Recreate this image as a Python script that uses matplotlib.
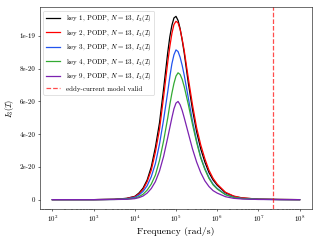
import matplotlib
matplotlib.use("Agg")
import matplotlib.pyplot as plt
from matplotlib.ticker import FuncFormatter
import numpy as np

plt.rcParams["font.family"] = "serif"
plt.rcParams["font.serif"] = ["cmr10", "DejaVu Serif"]
plt.rcParams["mathtext.fontset"] = "cm"
plt.rcParams["axes.formatter.use_mathtext"] = True

# log10 of frequency (rad/s) where values were read
log_freq = [2.0, 3.0, 3.5, 3.8, 4.0, 4.1, 4.2, 4.3, 4.4, 4.5, 4.6, 4.7, 4.8,
            4.85, 4.9, 4.95, 5.0, 5.05, 5.1, 5.15, 5.2, 5.3, 5.4, 5.5, 5.6,
            5.7, 5.8, 5.9, 6.0, 6.2, 6.4, 6.6, 7.0, 7.5, 8.0]

# values in units of 1e-20
key1 = [0, 0, 0.02, 0.08, 0.2, 0.4, 0.7, 1.2, 2.0, 3.2, 4.7, 6.8, 9.0,
        9.95, 10.65, 11.1, 11.2, 10.95, 10.45, 9.75, 8.95, 7.1, 5.5, 4.15, 3.1,
        2.3, 1.65, 1.2, 0.88, 0.42, 0.2, 0.1, 0.03, 0.01, 0]
key2 = [0, 0, 0.02, 0.07, 0.18, 0.35, 0.62, 1.1, 1.8, 2.9, 4.3, 6.3, 8.4,
        9.35, 10.15, 10.7, 10.9, 10.8, 10.4, 9.8, 9.1, 7.4, 5.8, 4.4, 3.35,
        2.5, 1.8, 1.3, 0.95, 0.45, 0.22, 0.11, 0.03, 0.01, 0]
key3 = [0, 0, 0.015, 0.05, 0.14, 0.28, 0.5, 0.85, 1.4, 2.2, 3.4, 4.9, 6.6,
        7.5, 8.3, 8.85, 9.15, 9.05, 8.7, 8.2, 7.6, 6.2, 4.8, 3.6, 2.6,
        1.9, 1.35, 0.95, 0.68, 0.32, 0.15, 0.07, 0.02, 0.005, 0]
key4 = [0, 0, 0.01, 0.03, 0.09, 0.18, 0.33, 0.58, 0.95, 1.5, 2.4, 3.6, 5.0,
        5.8, 6.5, 7.1, 7.55, 7.75, 7.65, 7.35, 6.9, 5.8, 4.6, 3.5, 2.55,
        1.85, 1.3, 0.9, 0.65, 0.3, 0.14, 0.07, 0.02, 0.005, 0]
key9 = [0, 0, 0.008, 0.02, 0.06, 0.12, 0.22, 0.4, 0.68, 1.1, 1.75, 2.65, 3.8,
        4.4, 5.0, 5.55, 5.9, 6.0, 5.8, 5.45, 5.0, 4.05, 3.1, 2.3, 1.65,
        1.15, 0.8, 0.55, 0.4, 0.18, 0.08, 0.04, 0.01, 0.003, 0]

keys = ["1", "2", "3", "4", "9"]
series = [key1, key2, key3, key4, key9]
colors = ["black", "red", "#2255ee", "#33aa33", "#7b22b0"]
eddy_limit = 2.2e7

freq = 10.0 ** np.array(log_freq)

fig, ax = plt.subplots(figsize=(6.4, 4.8), dpi=50)
fig.subplots_adjust(left=0.125, right=0.975, bottom=0.13, top=0.97)

for k, vals, c in zip(keys, series, colors):
    ax.plot(freq, np.array(vals) * 1e-20, color=c, lw=1.8,
            label=rf"key {k}, PODP, $N=13$, $I_3(\mathcal{{I}})$")
ax.axvline(eddy_limit, color="red", ls="--", lw=1.8, alpha=0.7,
           label="eddy-current model valid")

ax.set_xscale("log")
ax.set_yticks([0, 2e-20, 4e-20, 6e-20, 8e-20, 1e-19])
ax.yaxis.set_major_formatter(FuncFormatter(lambda v, p: "0" if v == 0 else f"{v:.0e}"))
ax.set_xlabel("Frequency (rad/s)", fontsize=14)
ax.set_ylabel(r"$I_3(\mathcal{I})$", fontsize=12)
ax.tick_params(labelsize=10)
ax.legend(loc="upper left", fontsize=10)

fig.savefig("out.png", dpi=50)
